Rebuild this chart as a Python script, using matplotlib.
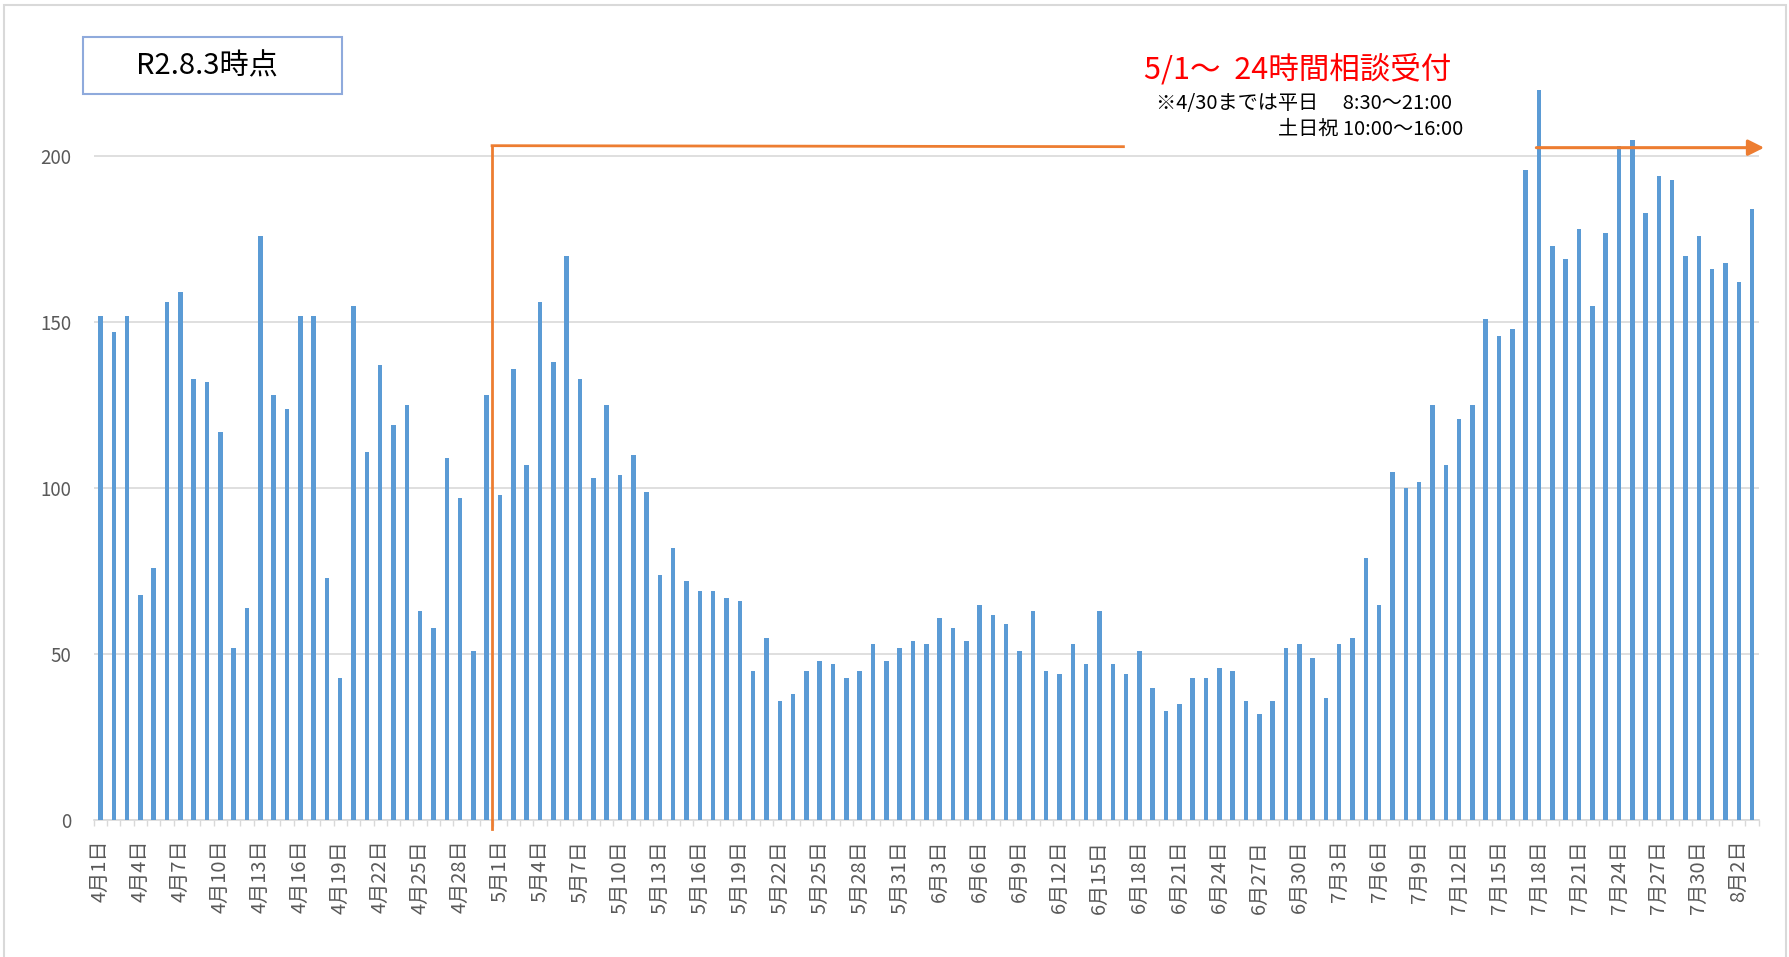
import matplotlib
matplotlib.use("Agg")
import matplotlib.pyplot as plt
from matplotlib.patches import Rectangle
import numpy as np

plt.rcParams['font.family'] = ['Noto Sans CJK JP', 'DejaVu Sans']

# ---------------- data ----------------
months = [4, 5, 6, 7, 8]
days_in_month = [30, 31, 30, 31, 3]

april = [152, 147, 152, 68, 76, 156, 159, 133, 132, 117, 52, 64, 176, 128, 124,
         152, 152, 73, 43, 155, 111, 137, 119, 125, 63, 58, 109, 97, 51, 128]
may = [98, 136, 107, 156, 138, 170, 133, 103, 125, 104, 110, 99, 74, 82, 72, 69,
       69, 67, 66, 45, 55, 36, 38, 45, 48, 47, 43, 45, 53, 48, 52]
june = [54, 53, 61, 58, 54, 65, 62, 59, 51, 63, 45, 44, 53, 47, 63, 47, 44, 51,
        40, 33, 35, 43, 43, 46, 45, 36, 32, 36, 52, 53]
july = [49, 37, 53, 55, 79, 65, 105, 100, 102, 125, 107, 121, 125, 151, 146, 148,
        196, 220, 173, 169, 178, 155, 177, 203, 205, 183, 194, 193, 170, 176, 166]
august = [168, 162, 184]

counts = april + may + june + july + august
categories = [f"{m}月{d}日" for m, n in zip(months, days_in_month) for d in range(1, n + 1)]
label_step = 3

y_ticks = [0, 50, 100, 150, 200]

title_box_text = "R2.8.3時点"
note_red = "5/1～  24時間相談受付"
note_line1 = "※4/30までは平日\u3000 8:30～21:00"
note_line2 = "土日祝 10:00～16:00"

# annotation line geometry (data units)
change_x = 29.4          # boundary between 4/30 and 5/1
bracket_top = 203.2
bracket_end_x = 76.8
arrow_start_x = 107.8
arrow_end_x = 124.9
arrow_y = 202.6

# ---------------- figure ----------------
W, H = 1789, 957
fig = plt.figure(figsize=(W / 100, H / 100), dpi=100)
fig.patch.set_facecolor('white')

def fx(px):
    return px / W

def fy(py):
    return 1 - py / H

# outer frame
fig.add_artist(Rectangle((fx(4), fy(1000)), fx(1782), (1000 - 5) / H,
                         transform=fig.transFigure, fill=False,
                         edgecolor='#D9D9D9', lw=1.5))

ax_left, ax_right = 93.8, 1758.8
ax_bottom_px = 820.4
ymax = 230
px_per_unit = 3.3205
ax_top_px = ax_bottom_px - ymax * px_per_unit
ax = fig.add_axes([fx(ax_left), fy(ax_bottom_px), fx(ax_right - ax_left),
                   (ax_bottom_px - ax_top_px) / H])

x = np.arange(len(counts))
ax.bar(x, counts, width=0.34, color='#5B9BD5', zorder=3)

ax.set_xlim(-0.5, len(counts) - 0.5)
ax.set_ylim(0, ymax)

ax.set_yticks(y_ticks)
ax.set_yticklabels([str(v) for v in y_ticks])
ax.yaxis.grid(True, color='#D9D9D9', lw=1.2, zorder=0)
ax.set_axisbelow(True)

ax.set_xticks(x[::label_step])
ax.set_xticklabels(categories[::label_step], rotation=90)
ax.set_xticks(np.arange(-0.5, len(counts), 1), minor=True)

ax.tick_params(axis='x', which='major', length=0, pad=14, labelsize=14.5,
               labelcolor='#595959')
ax.tick_params(axis='x', which='minor', length=4, width=1, color='#D9D9D9')
ax.tick_params(axis='y', length=0, pad=16, labelsize=13.5, labelcolor='#595959')

for s in ['top', 'right', 'left']:
    ax.spines[s].set_visible(False)
ax.spines['bottom'].set_color('#D9D9D9')
ax.spines['bottom'].set_linewidth(1.2)

orange = '#ED7D31'
ax.plot([change_x, change_x], [-2.5, bracket_top - 0.4], color=orange, lw=2,
        clip_on=False, zorder=5)
ax.plot([change_x, bracket_end_x], [bracket_top, bracket_top - 0.3], color=orange,
        lw=2, clip_on=False, zorder=5)
ax.annotate('', xy=(arrow_end_x, arrow_y), xytext=(arrow_start_x, arrow_y),
            arrowprops=dict(arrowstyle='-|>', color=orange, lw=2.2,
                            mutation_scale=24, shrinkA=0, shrinkB=0),
            annotation_clip=False, zorder=6)

# title box
fig.add_artist(Rectangle((fx(82.7), fy(94.3)), fx(341.7 - 82.7), (94.3 - 36.7) / H,
                         transform=fig.transFigure, fill=False,
                         edgecolor='#8FAADC', lw=1.5))
fig.text(fx(207), fy(66), title_box_text, ha='center', va='center',
         fontsize=21, color='black')

# notes
fig.text(fx(1144), fy(70), note_red, ha='left', va='center', fontsize=22,
         color='#FF0000')
fig.text(fx(1156), fy(103), note_line1, ha='left', va='center', fontsize=14.5,
         color='black')
fig.text(fx(1278), fy(129), note_line2, ha='left', va='center', fontsize=14.5,
         color='black')

fig.savefig('out.png', dpi=100, facecolor='white')
